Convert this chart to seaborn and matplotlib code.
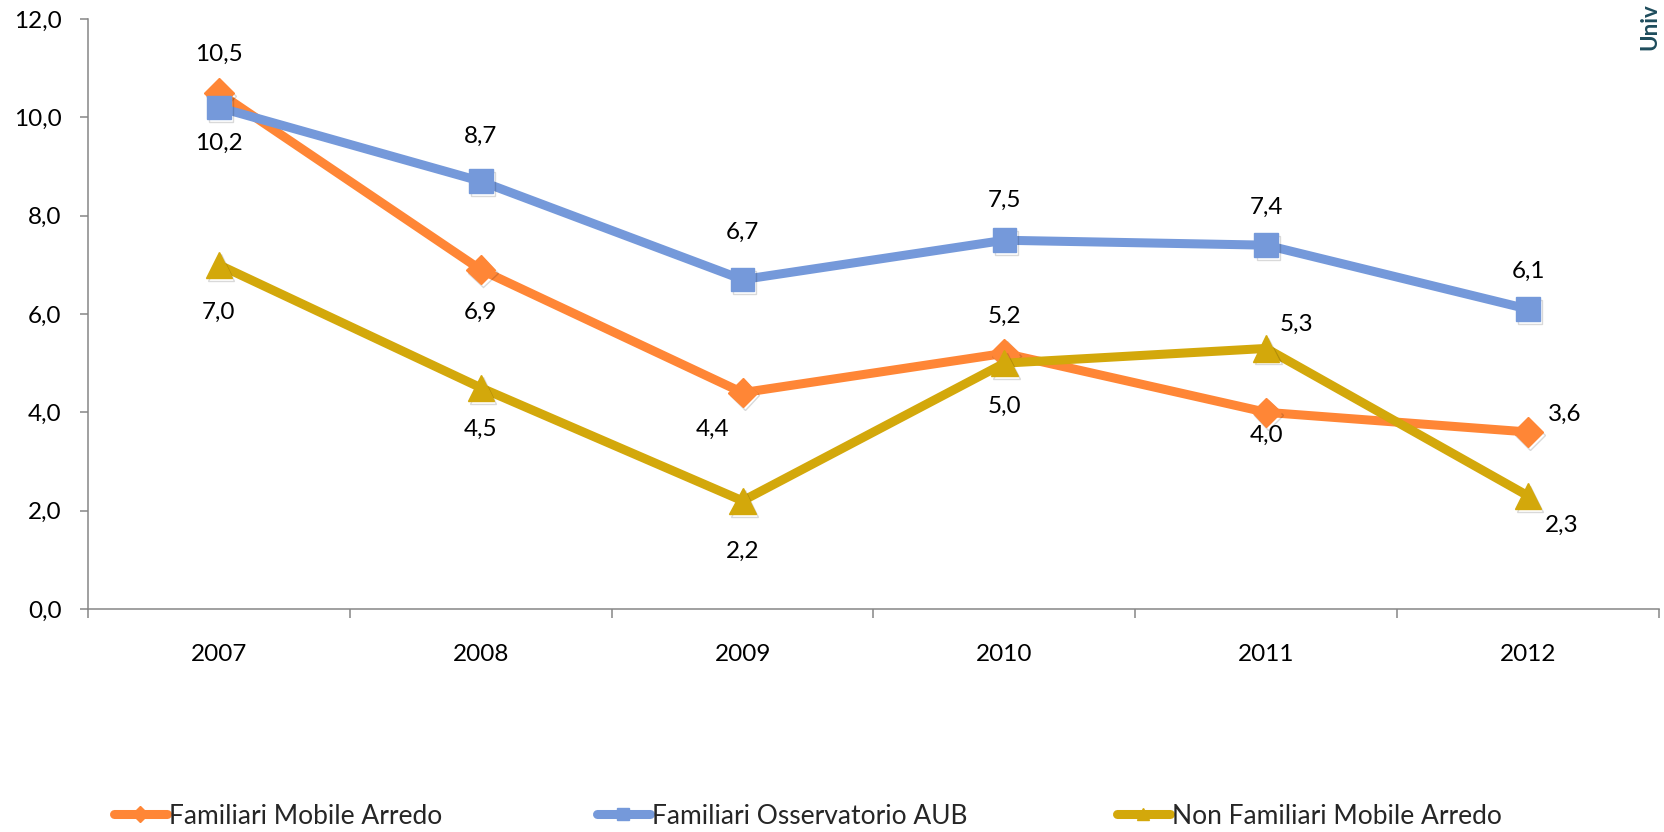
import matplotlib
matplotlib.use("Agg")
import matplotlib.pyplot as plt
from matplotlib.lines import Line2D
import matplotlib.patheffects as pe
import seaborn as sns
import pandas as pd

# Series values
years = ["2007", "2008", "2009", "2010", "2011", "2012"]
familiari_mobile = [10.5, 6.9, 4.4, 5.2, 4.0, 3.6]
familiari_aub = [10.2, 8.7, 6.7, 7.5, 7.4, 6.1]
non_familiari_mobile = [7.0, 4.5, 2.2, 5.0, 5.3, 2.3]
series_names = ["Familiari Mobile Arredo", "Familiari Osservatorio AUB",
                "Non Familiari Mobile Arredo"]
y_ticks = [0, 2, 4, 6, 8, 10, 12]

sns.set_theme(style="white")
plt.rcParams["font.family"] = ["Lato", "DejaVu Sans"]

colors = ["#FF8636", "#7599DA", "#D3A80B"]
markers = ["D", "s", "^"]
msizes = [15, 17, 19]
# label offsets in pixels (dx, dy) for each point of each series
label_offsets = [
    [(0, 38), (0, -43), (-30, -37), (0, 37), (0, -23), (37, 18)],
    [(0, -36), (0, 45), (0, 47), (0, 40), (0, 38), (0, 38)],
    [(0, -48), (0, -42), (0, -51), (0, -43), (30, 24), (34, -29)],
]

values = [familiari_mobile, familiari_aub, non_familiari_mobile]
df = pd.DataFrame({
    "x": list(range(len(years))) * 3,
    "value": familiari_mobile + familiari_aub + non_familiari_mobile,
    "serie": sum([[n] * len(years) for n in series_names], []),
})

FS = 17.5
W, H = 1664, 832
fig = plt.figure(figsize=(W / 100, H / 100), dpi=100)
ax = fig.add_axes([88 / W, 1 - 609 / H, (1659 - 88) / W, (609 - 19) / H])

shadow = [pe.SimpleLineShadow(offset=(1.5, -2.0), shadow_color="black", alpha=0.15),
          pe.Normal()]

for i, name in enumerate(series_names):
    sub = df[df["serie"] == name]
    sns.lineplot(data=sub, x="x", y="value", ax=ax, color=colors[i],
                 linewidth=6.5, zorder=2 + i * 2, legend=False,
                 solid_capstyle="butt")
    ax.plot(sub["x"], sub["value"], linestyle="none", marker=markers[i],
            markersize=msizes[i], color=colors[i], markeredgecolor=colors[i],
            zorder=3 + i * 2, path_effects=shadow)
    for j, v in enumerate(values[i]):
        ax.annotate(f"{v:.1f}".replace(".", ","), (j, v),
                    xytext=label_offsets[i][j], textcoords="offset pixels",
                    ha="center", va="center", fontsize=FS, color="black",
                    zorder=10)

ax.set_xlim(-0.5, len(years) - 0.5)
ax.set_ylim(0, 12)
ax.set_yticks(y_ticks)
ax.set_yticklabels([f"{t:.1f}".replace(".", ",") for t in y_ticks], fontsize=FS)
ax.set_xticks(range(len(years)))
ax.set_xticklabels(years, fontsize=FS)
ax.set_xticks([k - 0.5 for k in range(len(years) + 1)], minor=True)
ax.set_xlabel("")
ax.set_ylabel("")

gray = "#868686"
for s in ["top", "right"]:
    ax.spines[s].set_visible(False)
for s in ["left", "bottom"]:
    ax.spines[s].set_color(gray)
    ax.spines[s].set_linewidth(1.1)
ax.tick_params(axis="y", which="major", direction="out", length=6, width=1.1,
               color=gray, pad=13, left=True, labelcolor="black")
ax.tick_params(axis="x", which="major", length=0, pad=25, labelcolor="black")
ax.tick_params(axis="x", which="minor", direction="out", length=6.5, width=1.1,
               color=gray, bottom=True)
ax.grid(False)

# Legend entries laid out along the bottom
legend_x = [114, 597, 1117]
for i, name in enumerate(series_names):
    h = Line2D([], [], color=colors[i], linewidth=6.5, marker=markers[i],
               markersize=8, markeredgecolor=colors[i])
    fig.legend(handles=[h], labels=[name], loc="center left",
               bbox_to_anchor=(legend_x[i] / W, 1 - 816 / H), frameon=False,
               fontsize=19, handlelength=2.0, handletextpad=0.1,
               borderpad=0, borderaxespad=0)

fig.text(1650 / W, 1 - 50 / H, "Univ", rotation=90, ha="center",
         va="bottom", color="#1E4C5C", fontweight="bold", fontsize=16)

fig.savefig("out.png", dpi=100)
